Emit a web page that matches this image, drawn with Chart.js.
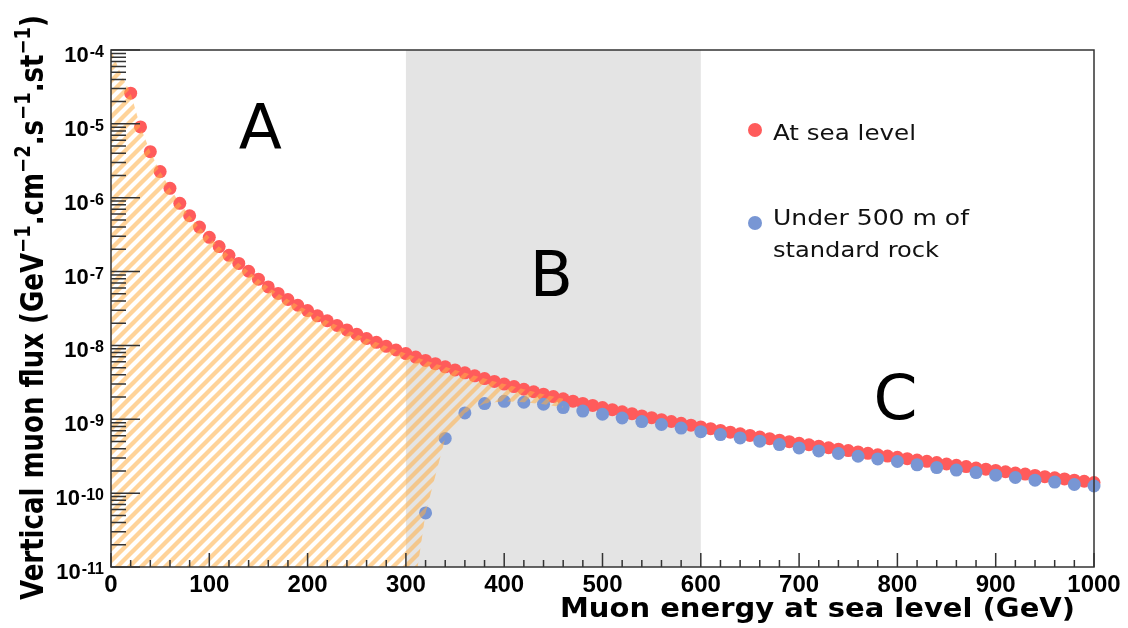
<!DOCTYPE html>
<html>
<head>
<meta charset="utf-8">
<script src="https://cdn.jsdelivr.net/npm/chart.js@4.4.0/dist/chart.umd.min.js"></script>
<style>
  html, body { margin: 0; padding: 0; background: #fff; }
  #wrap { width: 1128px; height: 628px; position: relative; }
</style>
</head>
<body>
<div id="wrap"><canvas id="fluxChart"></canvas></div>
<script>
// Muon energy at sea level (GeV) for the sea-level points
const seaEnergy = [
  20, 30, 40, 50, 60, 70, 80, 90, 100, 110,
  120, 130, 140, 150, 160, 170, 180, 190, 200, 210,
  220, 230, 240, 250, 260, 270, 280, 290, 300, 310,
  320, 330, 340, 350, 360, 370, 380, 390, 400, 410,
  420, 430, 440, 450, 460, 470, 480, 490, 500, 510,
  520, 530, 540, 550, 560, 570, 580, 590, 600, 610,
  620, 630, 640, 650, 660, 670, 680, 690, 700, 710,
  720, 730, 740, 750, 760, 770, 780, 790, 800, 810,
  820, 830, 840, 850, 860, 870, 880, 890, 900, 910,
  920, 930, 940, 950, 960, 970, 980, 990, 1000
];
// vertical flux at sea level (GeV-1 cm-2 s-1 sr-1)
const seaFlux = [
  2.60e-5, 9.1e-6, 4.2e-6, 2.26e-6, 1.34e-6, 8.4e-7, 5.7e-7, 4.0e-7, 2.91e-7, 2.18e-7,
  1.66e-7, 1.29e-7, 1.01e-7, 7.9e-8, 6.2e-8, 5.06e-8, 4.19e-8, 3.50e-8, 2.96e-8, 2.52e-8,
  2.16e-8, 1.86e-8, 1.62e-8, 1.42e-8, 1.24e-8, 1.10e-8, 9.73e-9, 8.67e-9, 7.76e-9, 6.96e-9,
  6.26e-9, 5.66e-9, 5.13e-9, 4.66e-9, 4.25e-9, 3.88e-9, 3.56e-9, 3.26e-9, 3.00e-9, 2.77e-9,
  2.55e-9, 2.36e-9, 2.19e-9, 2.03e-9, 1.89e-9, 1.76e-9, 1.64e-9, 1.54e-9, 1.44e-9, 1.35e-9,
  1.26e-9, 1.19e-9, 1.11e-9, 1.05e-9, 9.89e-10, 9.33e-10, 8.81e-10, 8.32e-10, 7.87e-10, 7.46e-10,
  7.07e-10, 6.70e-10, 6.36e-10, 6.04e-10, 5.75e-10, 5.47e-10, 5.21e-10, 4.97e-10, 4.74e-10, 4.52e-10,
  4.32e-10, 4.12e-10, 3.94e-10, 3.77e-10, 3.61e-10, 3.46e-10, 3.31e-10, 3.18e-10, 3.05e-10, 2.93e-10,
  2.81e-10, 2.70e-10, 2.59e-10, 2.48e-10, 2.38e-10, 2.29e-10, 2.19e-10, 2.11e-10, 2.03e-10, 1.95e-10,
  1.87e-10, 1.81e-10, 1.74e-10, 1.67e-10, 1.61e-10, 1.56e-10, 1.50e-10, 1.45e-10, 1.39e-10
];
// under 500 m of standard rock
const rockEnergy = [
  320, 340, 360, 380, 400, 420, 440, 460, 480, 500,
  520, 540, 560, 580, 600, 620, 640, 660, 680, 700,
  720, 740, 760, 780, 800, 820, 840, 860, 880, 900,
  920, 940, 960, 980, 1000
];
const rockFlux = [
  5.4e-11, 5.5e-10, 1.22e-9, 1.63e-9, 1.75e-9, 1.70e-9, 1.60e-9, 1.44e-9, 1.29e-9, 1.17e-9,
  1.04e-9, 9.3e-10, 8.5e-10, 7.6e-10, 6.8e-10, 6.2e-10, 5.6e-10, 5.05e-10, 4.55e-10, 4.1e-10,
  3.73e-10, 3.44e-10, 3.16e-10, 2.91e-10, 2.68e-10, 2.42e-10, 2.22e-10, 2.05e-10, 1.90e-10, 1.75e-10,
  1.63e-10, 1.50e-10, 1.41e-10, 1.31e-10, 1.25e-10
];

// hatched (absorbed) area: top edge runs up the sea-level curve to E = 0,
// bottom edge lies on the axis floor until the rock curve takes over
const hatchLeadEnergy = [0, 10];
const hatchLeadFlux = [1.0e-4, 4.8e-5];
const hatchFloorEnergy = [0, 312];
const hatchFloorFlux = [1e-11, 1e-11];
const hatchEndEnergy = 460;

const bandB = [300, 600];
const regionNames = ['A', 'B', 'C'];
const seriesNames = [['At sea level'], ['Under 500 m of', 'standard rock']];
const xTickValues = [0, 100, 200, 300, 400, 500, 600, 700, 800, 900, 1000];
const xTickLabels = ['0', '100', '200', '300', '400', '500', '600', '700', '800', '900', '1000'];
const yTickExponents = [-11, -10, -9, -8, -7, -6, -5, -4];

const seaColor = '#ff5b5b';
const rockColor = '#7896d4';

const toPoints = (xs, ys) => xs.map((x, i) => ({ x: x, y: ys[i] }));

const canvas = document.getElementById('fluxChart');

// diagonal orange stripes
function makeHatch() {
    const s = 12;
    const tile = document.createElement('canvas');
    tile.width = s;
    tile.height = s;
    const g = tile.getContext('2d');
    g.strokeStyle = 'rgba(255,175,70,0.55)';
    g.lineWidth = 4.3;
    g.beginPath();
    g.moveTo(-s / 2, s / 2); g.lineTo(s / 2, -s / 2);
    g.moveTo(0, s); g.lineTo(s, 0);
    g.moveTo(s / 2, s * 1.5); g.lineTo(s * 1.5, s / 2);
    g.stroke();
    return canvas.getContext('2d').createPattern(tile, 'repeat');
}

const hatchTop = toPoints(hatchLeadEnergy, hatchLeadFlux)
    .concat(toPoints(seaEnergy, seaFlux).filter(p => p.x <= hatchEndEnergy));
const hatchBottom = toPoints(hatchFloorEnergy, hatchFloorFlux)
    .concat(toPoints(rockEnergy, rockFlux).filter(p => p.x <= hatchEndEnergy));

// positions of the big region letters, in data units
const regionAt = [[152, 9.4e-6], [448, 9.7e-8], [798, 2.05e-9]];

function fitText(ctx, text, x, y, width, align) {
    const w = ctx.measureText(text).width;
    const k = width / w;
    ctx.save();
    ctx.translate(x, y);
    ctx.scale(k, 1);
    ctx.textAlign = align || 'left';
    ctx.fillText(text, 0, 0);
    ctx.restore();
}

function richWidth(ctx, parts, font, supFont) {
    let w = 0;
    parts.forEach(([t, sup]) => {
        ctx.font = sup ? supFont : font;
        w += ctx.measureText(t).width;
    });
    return w;
}

function drawRich(ctx, parts, font, supFont, rise) {
    let cx = 0;
    ctx.textAlign = 'left';
    parts.forEach(([t, sup]) => {
        ctx.font = sup ? supFont : font;
        ctx.fillText(t, cx, sup ? -rise : 0);
        cx += ctx.measureText(t).width;
    });
}

const decorations = {
    id: 'decorations',
    beforeDatasetsDraw(chart) {
        const { ctx, chartArea: a, scales: { x } } = chart;
        const x0 = x.getPixelForValue(bandB[0]);
        const x1 = x.getPixelForValue(bandB[1]);
        ctx.save();
        ctx.fillStyle = '#e4e4e4';
        ctx.fillRect(x0, a.top, x1 - x0, a.bottom - a.top);
        ctx.restore();
    },
    afterDraw(chart) {
        const { ctx, chartArea: a, scales: { x, y } } = chart;
        ctx.save();

        // frame
        ctx.strokeStyle = '#333';
        ctx.lineWidth = 1.5;
        ctx.strokeRect(a.left, a.top, a.right - a.left, a.bottom - a.top);

        // x ticks (inside): major every 100, minor every 20
        ctx.beginPath();
        for (let v = 0; v <= 1000; v += 20) {
            const px = x.getPixelForValue(v);
            const len = v % 100 === 0 ? 14 : 7;
            ctx.moveTo(px, a.bottom);
            ctx.lineTo(px, a.bottom - len);
        }
        // y ticks (inside): decades long, 2..9 short
        yTickExponents.forEach(e => {
            const py = y.getPixelForValue(Math.pow(10, e));
            ctx.moveTo(a.left, py);
            ctx.lineTo(a.left + 29, py);
            if (e < -4) {
                for (let m = 2; m <= 9; m++) {
                    const pm = y.getPixelForValue(m * Math.pow(10, e));
                    ctx.moveTo(a.left, pm);
                    ctx.lineTo(a.left + 15, pm);
                }
            }
        });
        ctx.stroke();

        ctx.fillStyle = '#000';
        // x tick labels
        ctx.font = 'bold 24px "Liberation Sans", Arial, sans-serif';
        ctx.textAlign = 'center';
        ctx.textBaseline = 'alphabetic';
        xTickValues.forEach((v, i) => {
            ctx.fillText(xTickLabels[i], x.getPixelForValue(v), a.bottom + 25);
        });

        // y tick labels 10^e
        yTickExponents.forEach(e => {
            const py = y.getPixelForValue(Math.pow(10, e));
            const sup = '-' + Math.abs(e);
            ctx.font = 'bold 16px "Liberation Sans", Arial, sans-serif';
            ctx.textAlign = 'right';
            const sw = ctx.measureText(sup).width;
            ctx.fillText(sup, a.left - 7, py + 7);
            ctx.font = 'bold 22px "Liberation Sans", Arial, sans-serif';
            ctx.fillText('10', a.left - 8 - sw, py + 12);
        });

        // x title
        ctx.font = 'bold 27px "DejaVu Sans", sans-serif';
        fitText(ctx, 'Muon energy at sea level (GeV)', 560, 617, 515, 'left');

        // y title, rotated, with superscripts
        const yParts = [
            ['Vertical muon flux (GeV', 0], ['\u22121', 1], ['.cm', 0], ['\u22122', 1],
            ['.s', 0], ['\u22121', 1], ['.st', 0], ['\u22121', 1], [')', 0]
        ];
        const tf = 'bold 26px "DejaVu Sans", sans-serif';
        const sf = 'bold 18px "DejaVu Sans", sans-serif';
        const tw = richWidth(ctx, yParts, tf, sf);
        ctx.save();
        ctx.translate(43, 600);
        ctx.rotate(-Math.PI / 2);
        ctx.scale(585 / tw, 1.2);
        drawRich(ctx, yParts, tf, sf, 11);
        ctx.restore();

        // region letters
        ctx.font = '63px "DejaVu Sans", sans-serif';
        ctx.textAlign = 'center';
        regionNames.forEach((n, i) => {
            const px = x.getPixelForValue(regionAt[i][0]);
            const py = y.getPixelForValue(regionAt[i][1]);
            ctx.fillText(n, px, py + 23);
        });

        // legend
        const legendDots = [[755, 130], [755, 223]];
        const legendBase = [[140], [225, 257]];
        const legendWidths = [[143], [196, 166]];
        const legendColors = [seaColor, rockColor];
        ctx.font = '22px "DejaVu Sans", sans-serif';
        seriesNames.forEach((lines, i) => {
            ctx.fillStyle = legendColors[i];
            ctx.beginPath();
            ctx.arc(legendDots[i][0], legendDots[i][1], 7, 0, Math.PI * 2);
            ctx.fill();
            ctx.fillStyle = '#111';
            lines.forEach((t, j) => fitText(ctx, t, 773, legendBase[i][j], legendWidths[i][j], 'left'));
        });

        ctx.restore();
    }
};

const chart = new Chart(canvas, {
    type: 'line',
    data: {
        datasets: [
            {
                // hatched area, drawn on top of the points
                data: hatchTop,
                borderWidth: 0,
                pointRadius: 0,
                backgroundColor: makeHatch(),
                fill: '+1'
            },
            {
                data: hatchBottom,
                borderWidth: 0,
                pointRadius: 0,
                fill: false
            },
            {
                label: 'Under 500 m of standard rock',
                data: toPoints(rockEnergy, rockFlux),
                showLine: false,
                pointRadius: 6.5,
                pointBorderWidth: 0,
                pointBackgroundColor: rockColor,
                clip: 8
            },
            {
                label: 'At sea level',
                data: toPoints(seaEnergy, seaFlux),
                showLine: false,
                pointRadius: 6.5,
                pointBorderWidth: 0,
                pointBackgroundColor: seaColor,
                clip: 8
            }
        ]
    },
    options: {
        responsive: true,
        maintainAspectRatio: false,
        animation: false,
        events: [],
        layout: { padding: { left: 111, top: 50, right: 34, bottom: 61 } },
        scales: {
            x: { type: 'linear', min: 0, max: 1000, display: false },
            y: { type: 'logarithmic', min: 1e-11, max: 1e-4, display: false }
        },
        plugins: {
            legend: { display: false },
            tooltip: { enabled: false }
        }
    },
    plugins: [decorations]
});
</script>
</body>
</html>
